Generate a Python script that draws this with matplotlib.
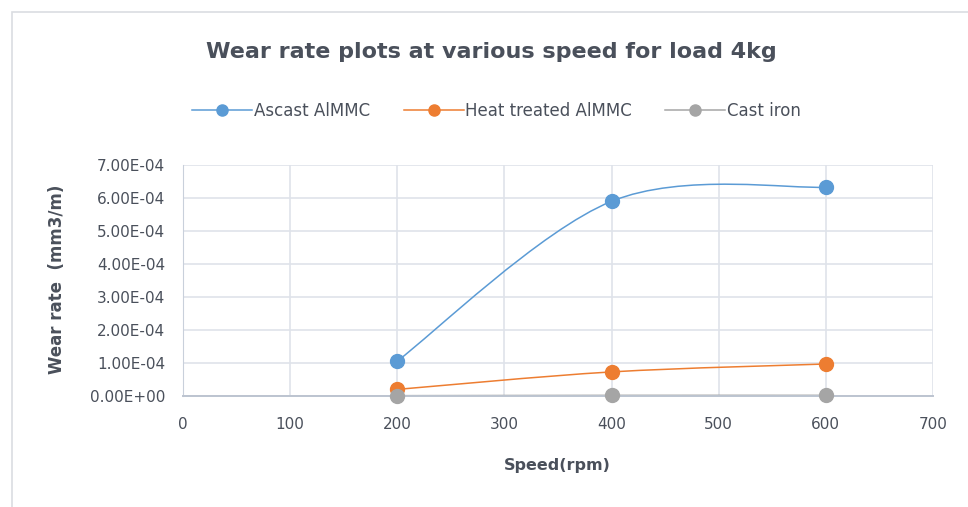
import matplotlib.pyplot as plt
from matplotlib.path import Path
from matplotlib.patches import PathPatch, Rectangle
from matplotlib.lines import Line2D
from matplotlib.ticker import FuncFormatter

speed = [200, 400, 600]
ascast = [1.06e-4, 5.90e-4, 6.33e-4]
heat_treated = [0.20e-4, 0.73e-4, 0.97e-4]
cast_iron = [1e-6, 2e-6, 2e-6]

series_names = ["Ascast AlMMC", "Heat treated AlMMC", "Cast iron"]
colors = ["#5B9BD5", "#ED7D31", "#A5A5A5"]
text_col = "#4A505B"


def smooth_path(xs, ys):
    # Excel-style smoothed line: bezier segments with catmull-rom control points
    pts = list(zip(xs, ys))
    n = len(pts)
    verts = [pts[0]]
    codes = [Path.MOVETO]
    for i in range(n - 1):
        p0 = pts[i - 1] if i > 0 else pts[i]
        p1 = pts[i]
        p2 = pts[i + 1]
        p3 = pts[i + 2] if i + 2 < n else pts[i + 1]
        c1 = (p1[0] + (p2[0] - p0[0]) / 6, p1[1] + (p2[1] - p0[1]) / 6)
        c2 = (p2[0] - (p3[0] - p1[0]) / 6, p2[1] - (p3[1] - p1[1]) / 6)
        verts += [c1, c2, p2]
        codes += [Path.CURVE4] * 3
    return Path(verts, codes)


fig = plt.figure(figsize=(9.68, 5.07), dpi=100)
fig.patches.append(Rectangle((12 / 968, -0.05), 1.2, 1 - 12 / 507 + 0.05,
                             transform=fig.transFigure, fill=False,
                             edgecolor="#DADDE2", lw=1.2))
ax = fig.add_axes([183 / 968, 111 / 507, 750 / 968, 231 / 507])

ax.set_xlim(0, 700)
ax.set_ylim(0, 7e-4)
ax.set_xticks(range(0, 701, 100))
ax.set_yticks([i * 1e-4 for i in range(8)])
ax.yaxis.set_major_formatter(FuncFormatter(lambda v, p: "%.2E" % v))
ax.grid(True, color="#DFE3EA", lw=1.2)
ax.set_axisbelow(True)
for s in ["top", "right"]:
    ax.spines[s].set_visible(False)
ax.spines["left"].set_color("#C9D0DB")
ax.spines["bottom"].set_color("#BCC4D0")
ax.spines["bottom"].set_linewidth(1.4)
ax.tick_params(length=0, colors=text_col, labelsize=11)
ax.tick_params(axis="x", pad=15)
ax.tick_params(axis="y", pad=13)

handles = []
for ys, c, name in zip([ascast, heat_treated, cast_iron], colors, series_names):
    ax.add_patch(PathPatch(smooth_path(speed, ys), fill=False, edgecolor=c,
                           lw=1.1, zorder=2))
    ax.plot(speed, ys, ls="none", marker="o", ms=10, color=c, zorder=3,
            clip_on=False)
    handles.append(Line2D([], [], color=c, lw=1.1, marker="o", ms=8, label=name))

fig.text(0.508, 0.897, "Wear rate plots at various speed for load 4kg",
         ha="center", va="center", fontsize=16, fontweight="bold", color=text_col)
fig.legend(handles=handles, loc="center", bbox_to_anchor=(0.513, 0.781), ncol=3,
           frameon=False, fontsize=12, labelcolor=text_col, handlelength=3.6,
           columnspacing=2.0, handletextpad=0.1)
fig.text(0.576, 0.081, "Speed(rpm)", ha="center", va="center", fontsize=11.5,
         fontweight="bold", color=text_col)
fig.text(0.059, 0.45, "Wear rate  (mm3/m)", ha="center", va="center",
         rotation=90, fontsize=12, fontweight="bold", color=text_col)

fig.savefig("out.png", dpi=100)
